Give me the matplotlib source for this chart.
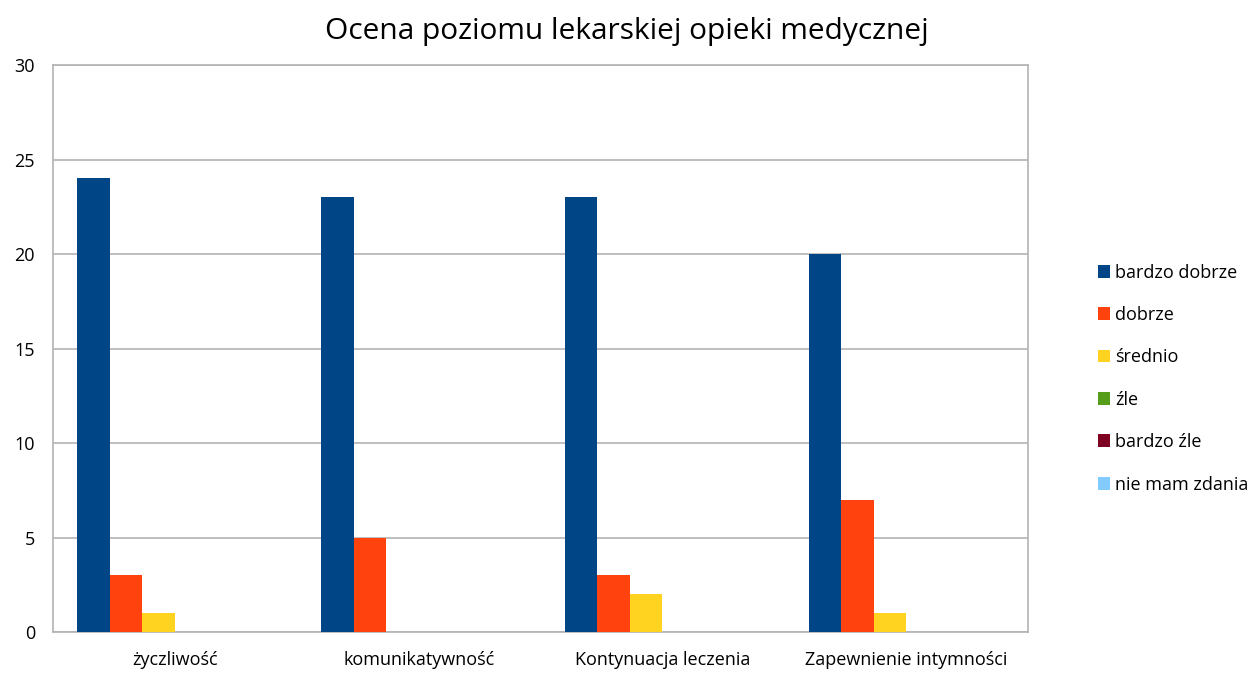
import matplotlib
matplotlib.use('Agg')
import matplotlib.pyplot as plt
import numpy as np

plt.rcParams['font.family'] = ['Open Sans', 'DejaVu Sans']

categories = ['życzliwość', 'komunikatywność', 'Kontynuacja leczenia', 'Zapewnienie intymności']
series_names = ['bardzo dobrze', 'dobrze', 'średnio', 'źle', 'bardzo źle', 'nie mam zdania']
bardzo_dobrze = [24, 23, 23, 20]
dobrze = [3, 5, 3, 7]
srednio = [1, 0, 2, 1]
zle = [0, 0, 0, 0]
bardzo_zle = [0, 0, 0, 0]
nie_mam_zdania = [0, 0, 0, 0]
series = [bardzo_dobrze, dobrze, srednio, zle, bardzo_zle, nie_mam_zdania]
colors = ['#004586', '#ff420e', '#ffd320', '#579d1c', '#7e0021', '#83caff']

fig = plt.figure(figsize=(12.54, 6.73), dpi=100)
ax = fig.add_axes([0.0423, 0.0609, 0.7775, 0.8425])

x = np.arange(len(categories))
w = 0.8 / len(series)
for i, (vals, name, c) in enumerate(zip(series, series_names, colors)):
    ax.bar(x - 0.4 + w * (i + 0.5), vals, width=w, color=c, label=name, zorder=3)

ax.set_xlim(-0.5, len(categories) - 0.5)
ax.set_ylim(0, 30)
ax.set_yticks(range(0, 31, 5))
ax.set_xticks(x)
ax.set_xticklabels(categories, fontsize=13)
ax.tick_params(axis='y', labelsize=13, length=0, pad=13)
ax.tick_params(axis='x', length=0, pad=14)
ax.grid(axis='y', color='#b3b3b3', linewidth=1.2, zorder=0)
for s in ax.spines.values():
    s.set_color('#b3b3b3')
    s.set_linewidth(1.2)

fig.suptitle('Ocena poziomu lekarskiej opieki medycznej', fontsize=21.5, x=0.5, y=0.975)

leg = ax.legend(loc='center left', bbox_to_anchor=(1.064, 0.447), frameon=False,
                fontsize=13, handlelength=0.7, handleheight=0.7,
                handletextpad=0.25, labelspacing=1.35, borderaxespad=0)

fig.savefig('out.png', dpi=100)
